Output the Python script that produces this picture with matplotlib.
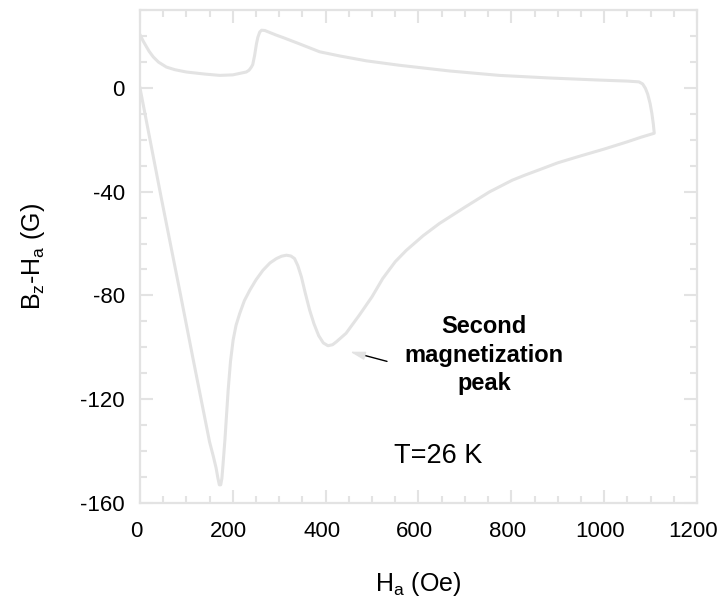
import matplotlib
matplotlib.use("Agg")
import matplotlib.pyplot as plt
import matplotlib.transforms as mtransforms
from matplotlib.ticker import MultipleLocator

plt.rcParams['font.family'] = ['Liberation Sans', 'DejaVu Sans']
plt.rcParams['mathtext.fontset'] = 'custom'
plt.rcParams['mathtext.rm'] = 'Liberation Sans'
plt.rcParams['axes.unicode_minus'] = False

LIGHT = '#e3e3e3'

# increasing field branch (virgin curve)
h_up = [0, 46, 86, 115, 130, 150, 158, 164, 168, 171, 174, 176.5, 179, 183, 190,
        195, 200.7, 207, 215, 225, 236.6, 250, 265, 280, 294, 305, 315.5, 325,
        333, 340, 347.7, 356, 365.6, 375, 385, 395, 405, 415, 423, 444, 473, 500,
        523, 550, 574, 610, 645, 700, 753, 802, 830, 860, 900, 950, 1000, 1050,
        1080, 1108]
b_up = [0, -42.5, -78.5, -105, -118.5, -136.5, -142, -146.5, -150.5, -153, -153,
        -150.5, -145, -135.7, -116.5, -105.5, -97.2, -91.5, -86.9, -82, -78, -74,
        -70.3, -67.5, -65.8, -64.9, -64.5, -64.8, -65.8, -68.5, -72.8, -79, -85.7,
        -91, -95.5, -98.3, -99.4, -99, -97.9, -94.6, -87.5, -80.5, -73.5, -67,
        -62.6, -57, -52.3, -46, -40.1, -35.6, -33.6, -31.6, -28.9, -26.2, -23.6,
        -20.8, -19.0, -17.5]

# decreasing field branch
h_down = [1108, 1106, 1103, 1099, 1094, 1089, 1083, 1075, 1050, 989, 882, 774,
          667, 559, 488, 430, 387, 340, 308, 294, 280, 269, 262, 258, 254, 251,
          247, 243, 240, 235, 229, 200, 172, 140, 100, 75, 57, 40, 28.7, 20,
          14.4, 7, 0]
b_down = [-17.5, -14, -10, -6, -2.5, -0.2, 1.5, 2.3, 2.6, 3.0, 3.8, 4.8, 6.5,
          8.7, 10.4, 12.3, 13.9, 17.2, 19.4, 20.3, 21.3, 22.1, 22.2, 21.5, 19.5,
          17, 12.5, 9, 8, 6.8, 6.1, 5.0, 4.8, 5.3, 6.1, 7.0, 8.0, 9.9, 11.9, 14,
          15.7, 18, 20.5]

fig = plt.figure(figsize=(7.2, 6.06), dpi=100)
ax = fig.add_axes([0.1944, 0.170, 0.7736, 0.8135])

ax.plot(h_up + h_down, b_up + b_down, color=LIGHT, lw=2.2,
        solid_joinstyle='round')

ax.set_xlim(0, 1200)
ax.set_ylim(-160, 30)
ax.set_xticks([0, 200, 400, 600, 800, 1000, 1200])
ax.set_yticks([-160, -120, -80, -40, 0])
ax.xaxis.set_minor_locator(MultipleLocator(50))
ax.yaxis.set_minor_locator(MultipleLocator(10))

for s in ax.spines.values():
    s.set_color(LIGHT)
    s.set_linewidth(1.6)

ax.tick_params(which='both', direction='in', top=True, right=True,
               color=LIGHT, width=1.5, labelsize=16, labelcolor='black')
ax.tick_params(which='major', length=9.5)
ax.tick_params(which='minor', length=5)
ax.tick_params(axis='y', pad=11)
ax.tick_params(axis='x', pad=13)

# x tick labels sit a little left of their ticks in the original
shift = mtransforms.ScaledTranslation(-4 / 100, 0, fig.dpi_scale_trans)
for lab in ax.get_xticklabels():
    lab.set_transform(lab.get_transform() + shift)

ax.set_xlabel(r'H$_\mathregular{a}$ (Oe)', fontsize=18, labelpad=20)
ax.set_ylabel(r'B$_\mathregular{z}$-H$_\mathregular{a}$ (G)', fontsize=18, labelpad=24)

ax.text(742, -103, 'Second\nmagnetization\npeak', ha='center', va='center',
        fontsize=17, fontweight='bold', linespacing=1.3)
ax.text(643, -142, 'T=26 K', ha='center', va='center', fontsize=19.5)

# pointer to the second peak: black shaft, light head
ax.annotate('', xy=(473, -102.6), xytext=(538, -105.7),
            arrowprops=dict(arrowstyle='-', color='black', lw=1))
ax.annotate('', xy=(447, -101.4), xytext=(475, -102.8),
            arrowprops=dict(arrowstyle='-|>,head_length=0.9,head_width=0.25',
                            color=LIGHT, lw=1))

fig.savefig('out.png', dpi=100)
